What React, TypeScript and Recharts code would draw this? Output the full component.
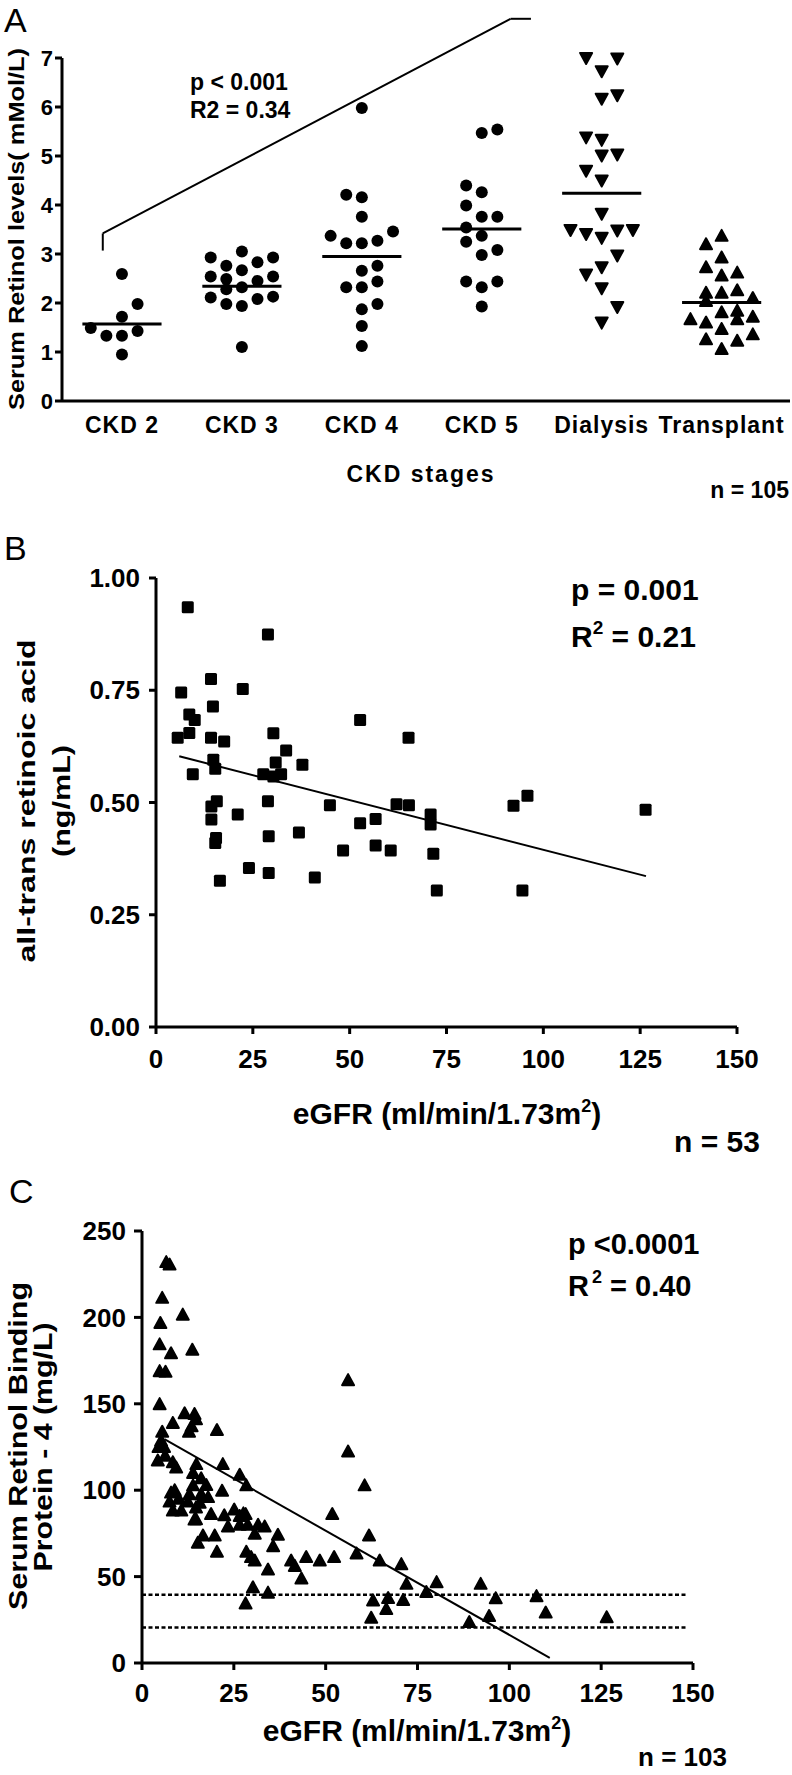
import React from "react";
import { ReferenceLine, Scatter, ScatterChart, XAxis, YAxis } from "recharts";

const FONT = '"Liberation Sans", Arial, Helvetica, sans-serif';

// ---------- Panel A: serum retinol by CKD stage ----------
// each point: [column in the swarm, value]
const stageLabels = ["CKD 2", "CKD 3", "CKD 4", "CKD 5", "Dialysis", "Transplant"];
const ckd2 = [[0, 2.59], [1, 1.98], [0, 1.72], [-2, 1.49], [-1, 1.33], [0, 1.33], [1, 1.43], [0, 0.95]];
const ckd3 = [
  [-2, 2.93], [0, 3.05], [2, 2.93], [-1, 2.76], [1, 2.83], [0, 2.67], [-2, 2.54], [2, 2.54], [-1, 2.49],
  [1, 2.45], [-1, 2.28], [0, 2.32], [-2, 2.11], [2, 2.13], [-1, 1.98], [1, 2.08], [0, 1.94], [0, 1.1],
];
const ckd4 = [
  [0, 5.98], [-1, 4.21], [0, 4.16], [0, 3.76], [-2, 3.37], [2, 3.46], [-1, 3.22], [0, 3.22], [1, 3.27],
  [1, 2.76], [0, 2.66], [-1, 2.32], [0, 2.32], [1, 2.44], [1, 1.98], [0, 1.87], [0, 1.53], [0, 1.12],
];
const ckd5 = [
  [0, 5.47], [1, 5.54], [-1, 4.4], [0, 4.26], [-1, 3.99], [0, 3.76], [1, 3.76], [-1, 3.54], [0, 3.37],
  [-1, 3.25], [1, 3.08], [0, 2.98], [-1, 2.44], [1, 2.44], [0, 2.32], [0, 1.93],
];
const dialysis = [
  [-1, 7.0], [1, 6.99], [0, 6.73], [0, 6.17], [1, 6.24], [-1, 5.38], [0, 5.33], [0, 5.01], [1, 5.03],
  [-1, 4.7], [0, 4.5], [0, 3.82], [-2, 3.49], [-1, 3.41], [0, 3.33], [1, 3.48], [2, 3.49], [1, 2.97],
  [0, 2.73], [-1, 2.58], [0, 2.3], [1, 1.92], [0, 1.6],
];
const transplant = [
  [0, 3.37], [-1, 3.2], [0, 2.93], [-1, 2.73], [0, 2.56], [1, 2.62], [-1, 2.21], [0, 2.21], [1, 2.26],
  [-1, 2.04], [2, 2.1], [1, 1.84], [0, 1.81], [-2, 1.67], [-1, 1.6], [1, 1.67], [2, 1.72], [0, 1.47],
  [-1, 1.26], [1, 1.23], [2, 1.36], [0, 1.06],
];
const stageMeans = [1.57, 2.34, 2.95, 3.51, 4.24, 2.01];
const trendBracket = [[0.84, 3.07], [0.84, 3.42], [4.24, 7.8], [4.41, 7.8]];
const retinolTicks = [0, 1, 2, 3, 4, 5, 6, 7];

// ---------- Panel B: all-trans retinoic acid vs eGFR ----------
const atraPoints = [
  [8.2, 0.935], [28.9, 0.874], [14.2, 0.775], [22.4, 0.753], [6.5, 0.745], [14.7, 0.714], [8.6, 0.696],
  [10.0, 0.684], [52.7, 0.684], [5.6, 0.644], [8.6, 0.655], [14.2, 0.644], [17.6, 0.636], [30.3, 0.654],
  [65.2, 0.644], [33.6, 0.616], [14.8, 0.595], [15.3, 0.575], [9.5, 0.563], [30.9, 0.589], [37.8, 0.584],
  [27.7, 0.563], [30.3, 0.558], [32.3, 0.563], [15.7, 0.503], [14.3, 0.491], [28.9, 0.503], [44.9, 0.494],
  [62.1, 0.496], [65.3, 0.494], [95.9, 0.515], [92.3, 0.493], [126.4, 0.484], [14.3, 0.462], [21.1, 0.473],
  [70.9, 0.473], [70.9, 0.451], [56.7, 0.463], [52.7, 0.454], [15.5, 0.421], [15.3, 0.41], [29.1, 0.425],
  [36.9, 0.433], [48.3, 0.393], [56.7, 0.404], [60.6, 0.393], [71.6, 0.386], [24.0, 0.354], [29.1, 0.343],
  [16.5, 0.326], [41.0, 0.333], [72.5, 0.304], [94.6, 0.304],
];
const atraFit = [[6.0, 0.603], [126.5, 0.336]];
const atraTicks = [0, 0.25, 0.5, 0.75, 1];

// ---------- Panel C: RBP4 vs eGFR ----------
const rbpPoints = [
  [6.6, 232], [7.5, 230.6], [5.5, 211.3], [11.1, 201.6], [5.0, 196.8], [4.8, 184.4], [7.9, 179.2],
  [13.7, 181.3], [4.8, 168.9], [6.4, 168.5], [4.8, 149.8], [56.1, 163.7], [11.6, 144.5], [14.3, 144.1],
  [8.4, 138.9], [12.8, 133.8], [20.4, 134.8], [5.5, 133.8], [5.2, 128.6], [56.1, 122.4], [4.3, 117.2],
  [8.4, 116.2], [9.3, 113.1], [22.0, 115.1], [14.8, 115.1], [13.9, 110.0], [26.6, 108.9], [16.1, 106.9],
  [13.9, 102.8], [28.4, 102.8], [60.6, 102.8], [21.8, 99.7], [7.9, 98.6], [12.9, 97.6], [16.1, 97.6],
  [7.5, 93.4], [12.5, 93.4], [15.7, 92.8], [8.4, 88.2], [10.7, 88.2], [14.3, 83.0], [18.8, 86.2],
  [51.8, 86.2], [26.6, 85.1], [28.2, 86.2], [23.4, 79.0], [26.6, 80.0], [28.8, 80.0], [31.6, 80.0],
  [33.4, 79.0], [30.7, 74.8], [37.0, 74.2], [16.6, 73.8], [19.8, 73.8], [61.8, 73.8], [15.2, 69.6],
  [35.7, 67.6], [20.4, 64.4], [28.4, 64.4], [29.7, 61.3], [30.7, 59.3], [40.6, 59.3], [44.7, 61.3],
  [48.4, 59.3], [52.3, 61.3], [58.4, 63.4], [41.6, 56.2], [64.7, 59.3], [70.6, 57.2], [34.3, 54.1],
  [43.4, 48.9], [72.0, 45.8], [30.2, 43.8], [34.3, 40.7], [28.2, 34.5], [62.9, 36.2], [62.4, 26.2],
  [67.0, 37.6], [66.5, 31.3], [71.1, 36.5], [77.4, 41.1], [80.2, 46.8], [92.2, 45.8], [96.3, 37.5],
  [107.4, 38.7], [109.9, 29.2], [89.1, 23.7], [94.5, 27.2], [126.5, 26.5], [13.5, 137], [14.7, 141],
  [6.3, 120], [8.9, 100], [14.7, 90], [14.7, 83.2], [22.4, 85.5], [25.1, 88.8], [27.6, 86.6], [6.0, 125],
  [10.0, 95], [17.5, 103], [4.5, 125], [18, 96],
];
const rbpFit = [[6.1, 129.5], [111, 3]];
const rbpNormalRange = [39.5, 20.5];
const rbpTicks = [0, 50, 100, 150, 200, 250];
const egfrTicks = [0, 25, 50, 75, 100, 125, 150];

const COL = 0.13; // swarm column width, in stage units
const MEAN_HALF = 0.33;

const toXY = (rows: number[][]) => rows.map(([x, y]) => ({ x, y }));
const toSwarm = (rows: number[][], stage: number) => rows.map(([c, v]) => ({ x: stage + c * COL, y: v }));

const tickFont = (size: number) => ({ fontSize: size, fontWeight: 700, fill: "#000", fontFamily: FONT });
const axisStroke = { stroke: "#000", strokeWidth: 3 };

const Dot = (p: any) => <circle cx={p.cx} cy={p.cy} r={6} fill="#000" />;
const TriDown = (p: any) => (
  <polygon
    points={`${p.cx - 6},${p.cy - 5} ${p.cx + 6},${p.cy - 5} ${p.cx},${p.cy + 6}`}
    fill="#000" stroke="#000" strokeWidth={2} strokeLinejoin="round"
  />
);
const TriUp = (p: any) => (
  <polygon
    points={`${p.cx},${p.cy - 6} ${p.cx - 6},${p.cy + 5} ${p.cx + 6},${p.cy + 5}`}
    fill="#000" stroke="#000" strokeWidth={2} strokeLinejoin="round"
  />
);
const Square = (p: any) => <rect x={p.cx - 6} y={p.cy - 6} width={12} height={12} rx={1.5} fill="#000" />;

const segs = (pts: number[][]) =>
  pts.slice(1).map((p, i) => [{ x: pts[i][0], y: pts[i][1] }, { x: p[0], y: p[1] }]);

function PanelA() {
  const groups = [ckd2, ckd3, ckd4, ckd5, dialysis, transplant];
  const shapes = [Dot, Dot, Dot, Dot, TriDown, TriUp];
  return (
    <ScatterChart width={792} height={520} margin={{ top: 58, right: 2, bottom: 89, left: 0 }}>
      <XAxis
        type="number" dataKey="x" domain={[0.5, 6.57]} ticks={[1, 2, 3, 4, 5, 6]}
        tickFormatter={(v: number) => stageLabels[v - 1]} tickLine={false} tickSize={8} tickMargin={8}
        axisLine={axisStroke} tick={{ ...tickFont(23), letterSpacing: 1 }} interval={0}
      />
      <YAxis
        type="number" dataKey="y" domain={[0, 7]} ticks={retinolTicks} width={62}
        tickSize={7} tickMargin={2} axisLine={axisStroke} tickLine={axisStroke} tick={tickFont(22)}
      />
      {groups.map((g, i) => (
        <Scatter key={stageLabels[i]} data={toSwarm(g, i + 1)} shape={shapes[i]} isAnimationActive={false} />
      ))}
      {stageMeans.map((m, i) => (
        <ReferenceLine
          key={"m" + i} ifOverflow="visible" stroke="#000" strokeWidth={3}
          segment={[{ x: i + 1 - MEAN_HALF, y: m }, { x: i + 1 + MEAN_HALF, y: m }]}
        />
      ))}
      {segs(trendBracket).map((s, i) => (
        <ReferenceLine key={"b" + i} segment={s} ifOverflow="visible" stroke="#000" strokeWidth={2} />
      ))}
    </ScatterChart>
  );
}

function PanelB() {
  return (
    <ScatterChart width={792} height={640} margin={{ top: 58, right: 55, bottom: 103, left: 0 }}>
      <XAxis
        type="number" dataKey="x" domain={[0, 150]} ticks={egfrTicks} interval={0}
        tickSize={7} tickMargin={16} axisLine={axisStroke} tickLine={axisStroke} tick={tickFont(26)}
      />
      <YAxis
        type="number" dataKey="y" domain={[0, 1]} ticks={atraTicks} width={156} interval={0}
        tickFormatter={(v: number) => v.toFixed(2)}
        tickSize={7} tickMargin={9} axisLine={axisStroke} tickLine={axisStroke} tick={tickFont(26)}
      />
      <Scatter data={toXY(atraPoints)} shape={Square} isAnimationActive={false} />
      {segs(atraFit).map((s, i) => (
        <ReferenceLine key={i} segment={s} ifOverflow="visible" stroke="#000" strokeWidth={2} />
      ))}
    </ScatterChart>
  );
}

function PanelC() {
  return (
    <ScatterChart width={792} height={615} margin={{ top: 71, right: 99, bottom: 82, left: 0 }}>
      <XAxis
        type="number" dataKey="x" domain={[0, 150]} ticks={egfrTicks} interval={0}
        tickSize={7} tickMargin={14} axisLine={axisStroke} tickLine={axisStroke} tick={tickFont(26)}
      />
      <YAxis
        type="number" dataKey="y" domain={[0, 250]} ticks={rbpTicks} width={142} interval={0}
        tickSize={8} tickMargin={8} axisLine={axisStroke} tickLine={axisStroke} tick={tickFont(26)}
      />
      {rbpNormalRange.map((v) => (
        <ReferenceLine
          key={v} segment={[{ x: 0, y: v }, { x: 148, y: v }]} ifOverflow="visible"
          stroke="#000" strokeWidth={2.5} strokeDasharray="4 2.5"
        />
      ))}
      <Scatter data={toXY(rbpPoints)} shape={TriUp} isAnimationActive={false} />
      {segs(rbpFit).map((s, i) => (
        <ReferenceLine key={i} segment={s} ifOverflow="visible" stroke="#000" strokeWidth={2} />
      ))}
    </ScatterChart>
  );
}

function Annotations() {
  const rot = (x: number, y: number) => `rotate(-90 ${x} ${y})`;
  return (
    <svg
      width={792} height={1775}
      style={{ position: "absolute", left: 0, top: 0, pointerEvents: "none" }}
      fontFamily={FONT} fontWeight={700} fill="#000"
    >
      {/* panel letters */}
      <text x={4} y={32} fontSize={34} fontWeight={400}>A</text>
      <text x={4} y={560} fontSize={34} fontWeight={400}>B</text>
      <text x={9} y={1203} fontSize={34} fontWeight={400}>C</text>

      {/* A */}
      <text x={24} y={229} fontSize={22} textAnchor="middle" transform={rot(24, 229)} textLength={362} lengthAdjust="spacingAndGlyphs">
        Serum Retinol levels( mMol/L)
      </text>
      <text x={190} y={90} fontSize={23}>p &lt; 0.001</text>
      <text x={190} y={118} fontSize={23}>R2 = 0.34</text>
      <text x={421} y={482} fontSize={23} textAnchor="middle" letterSpacing={2}>CKD stages</text>
      <text x={789} y={498} fontSize={23} textAnchor="end">n = 105</text>

      {/* B */}
      <text x={35} y={801} fontSize={24} textAnchor="middle" transform={rot(35, 801)} textLength={323} lengthAdjust="spacingAndGlyphs">
        all-trans retinoic acid
      </text>
      <text x={70} y={801} fontSize={24} textAnchor="middle" transform={rot(70, 801)} textLength={112} lengthAdjust="spacingAndGlyphs">
        (ng/mL)
      </text>
      <text x={571} y={600} fontSize={30}>p = 0.001</text>
      <text x={571} y={647} fontSize={30}>
        R<tspan dy={-13} fontSize={19}>2</tspan><tspan dy={13}> = 0.21</tspan>
      </text>
      <text x={447} y={1124} fontSize={30} textAnchor="middle">
        eGFR (ml/min/1.73m<tspan dy={-12} fontSize={18}>2</tspan><tspan dy={12}>)</tspan>
      </text>
      <text x={760} y={1152} fontSize={30} textAnchor="end">n = 53</text>

      {/* C */}
      <text x={27} y={1446} fontSize={25} textAnchor="middle" transform={rot(27, 1446)} textLength={328} lengthAdjust="spacingAndGlyphs">
        Serum Retinol Binding
      </text>
      <text x={52} y={1447} fontSize={25} textAnchor="middle" transform={rot(52, 1447)} textLength={249} lengthAdjust="spacingAndGlyphs">
        Protein - 4 (mg/L)
      </text>
      <text x={568} y={1254} fontSize={29}>p &lt;0.0001</text>
      <text x={568} y={1296} fontSize={29}>
        R<tspan dx={3} dy={-13} fontSize={18}>2</tspan><tspan dy={13}> = 0.40</tspan>
      </text>
      <text x={417} y={1741} fontSize={30} textAnchor="middle">
        eGFR (ml/min/1.73m<tspan dy={-12} fontSize={18}>2</tspan><tspan dy={12}>)</tspan>
      </text>
      <text x={727} y={1766} fontSize={26} textAnchor="end">n = 103</text>
    </svg>
  );
}

export default function App() {
  return (
    <div style={{ position: "relative", width: 792, height: 1775, background: "#fff", overflow: "hidden" }}>
      <style>{"body{margin:0}"}</style>
      <div style={{ position: "absolute", left: 0, top: 0 }}>
        <PanelA />
      </div>
      <div style={{ position: "absolute", left: 0, top: 520 }}>
        <PanelB />
      </div>
      <div style={{ position: "absolute", left: 0, top: 1160 }}>
        <PanelC />
      </div>
      <Annotations />
    </div>
  );
}
